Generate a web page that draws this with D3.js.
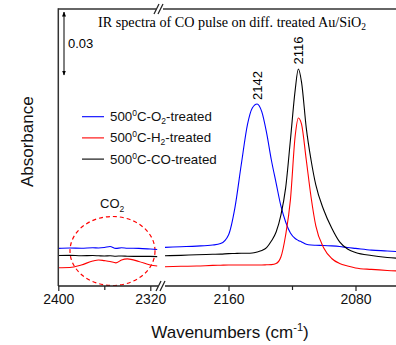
<!DOCTYPE html>
<html><head><meta charset="utf-8">
<script src="https://cdn.jsdelivr.net/npm/d3@7"></script>
<style>
body{margin:0;background:#fff;}
svg{display:block;font-family:"Liberation Sans",Arial,sans-serif;}
</style></head>
<body>
<svg id="chart" width="396" height="345"></svg>
<script>
// ---- data ----
const wavenumbersLow = [2400,2390,2380,2370,2365,2360,2355,2350,2345,2340,2330,2320,2314];
const wavenumbersHigh = [2200,2190,2180,2170,2165,2160,2156,2152,2148,2145,2142,2139,2136,2133,2130,2127,2124,2121,2118,2116,2114,2111,2108,2105,2100,2095,2090,2085,2080,2070,2060,2050];

const o2Low  = [.0179,.0181,.0180,.0182,.0181,.0183,.0188,.0179,.0182,.0180,.0179,.0176,.0174];
const h2Low  = [.0087,.0088,.0100,.0119,.0124,.0121,.0117,.0110,.0124,.0129,.0117,.0100,.0095];
const coLow  = [.0145,.0146,.0144,.0145,.0144,.0143,.0144,.0142,.0143,.0142,.0141,.0141,.0140];

const o2High = [.0184,.0187,.0190,.0195,.0202,.0243,.0371,.0576,.0771,.0848,.0867,.0829,.0729,.0600,.0490,.0381,.0305,.0252,.0226,.0217,.0210,.0199,.0195,.0194,.0193,.0191,.0188,.0183,.0179,.0171,.0167,.0162];
const h2High = [.0092,.0094,.0095,.0098,.0099,.0100,.0100,.0100,.0100,.0100,.0100,.0100,.0101,.0102,.0107,.0138,.0243,.0410,.0714,.0800,.0771,.0600,.0424,.0286,.0181,.0131,.0107,.0095,.0086,.0079,.0074,.0071];
const coHigh = [.0144,.0146,.0149,.0151,.0152,.0154,.0155,.0156,.0156,.0157,.0162,.0169,.0183,.0214,.0257,.0338,.0467,.0695,.0933,.1033,.0971,.0752,.0600,.0481,.0362,.0276,.0210,.0176,.0160,.0145,.0136,.0131];

const seriesNames = ["O2","H2","CO"];
const seriesColors = ["#0000ff","#ff0000","#000000"];
const majorTicks = [2400,2320,2160,2080];
const minorTicks = [2360,2120];
const peakLabels = [2142,2116];
const scaleBarValue = 0.03;

// ---- layout ----
const svg = d3.select("#chart");
const L = 58.3, T = 9, B = 286, R = 396;
const x = d3.scaleLinear()
  .domain([2400, 2314, 2200, 2050])
  .range([L, L + 86*1.15, 165, 165 + 150*1.5875]);
const y = d3.scaleLinear().domain([0, (B - T)/2100]).range([B, T]);

const lowData = {O2:o2Low, H2:h2Low, CO:coLow};
const highData = {O2:o2High, H2:h2High, CO:coHigh};

svg.append("defs").append("clipPath").attr("id","clip")
  .append("rect").attr("x",L).attr("y",T).attr("width",R-L).attr("height",B-T);

const line = d3.line().x(d=>x(d[0])).y(d=>y(d[1])).curve(d3.curveMonotoneX);
const g = svg.append("g").attr("clip-path","url(#clip)");

// CO2 dashed ellipse
g.append("ellipse").attr("cx",112.5).attr("cy",251).attr("rx",42.5).attr("ry",34.5)
  .attr("fill","none").attr("stroke","#ff0000").attr("stroke-width",1.2).attr("stroke-dasharray","4,3");

seriesNames.forEach((n,i)=>{
  [[wavenumbersLow, lowData[n]],[wavenumbersHigh, highData[n]]].forEach(([w,v])=>{
    g.append("path").datum(w.map((d,j)=>[d,v[j]]))
      .attr("d",line).attr("fill","none").attr("stroke",seriesColors[i]).attr("stroke-width",1.1);
  });
});

// frame
const frame = svg.append("g").attr("stroke","#333").attr("stroke-width",1.5).attr("fill","none");
frame.append("line").attr("x1",L).attr("x2",L).attr("y1",T-0.7).attr("y2",B);
frame.append("line").attr("x1",L).attr("x2",R).attr("y1",T).attr("y2",T);

// bottom axis
const axisG = svg.append("g").attr("transform",`translate(0,${B})`)
  .call(d3.axisBottom(x).tickValues(majorTicks).tickSize(5).tickSizeOuter(0).tickPadding(3).tickFormat(d3.format("d")));
axisG.select(".domain").remove();
axisG.selectAll("text").attr("font-size",14).attr("fill","#111").attr("font-family","Liberation Sans, Arial, sans-serif");
axisG.selectAll("line").attr("stroke","#222").attr("stroke-width",1.2);
svg.append("g").attr("transform",`translate(0,${B})`)
  .call(d3.axisBottom(x).tickValues(minorTicks).tickSize(4).tickFormat(""))
  .call(s=>{s.select(".domain").remove(); s.selectAll("line").attr("stroke","#222").attr("stroke-width",1.2);});
frame.append("line").attr("x1",L).attr("x2",R).attr("y1",B).attr("y2",B).attr("stroke","#222");

// axis breaks
function brk(cx, cy){
  svg.append("rect").attr("x",cx-3).attr("y",cy-2).attr("width",7).attr("height",4).attr("fill","#fff");
  [-2.5,1.5].forEach(o=>{
    svg.append("line").attr("x1",cx+o-2.5).attr("y1",cy+5).attr("x2",cx+o+2.5).attr("y2",cy-5)
      .attr("stroke","#222").attr("stroke-width",1.2);
  });
}
brk(161, B);
brk(159, T);

// scale bar
const defs = svg.select("defs");
defs.append("marker").attr("id","arr").attr("viewBox","0 0 10 10").attr("refX",9).attr("refY",5)
  .attr("markerWidth",5).attr("markerHeight",5).attr("orient","auto-start-reverse")
  .append("path").attr("d","M0,1 L10,5 L0,9 z").attr("fill","#000");
const sbTop = 12;
svg.append("line").attr("x1",64).attr("x2",64).attr("y1",sbTop).attr("y2",sbTop + (y(0)-y(scaleBarValue)))
  .attr("stroke","#000").attr("stroke-width",1).attr("marker-start","url(#arr)").attr("marker-end","url(#arr)");
svg.append("text").attr("x",68).attr("y",48).attr("font-size",13).text(String(scaleBarValue));

// title
const title = svg.append("text").attr("x",98).attr("y",26.5)
  .attr("font-family","Liberation Serif, Times New Roman, serif").attr("font-size",14.2).attr("fill","#000");
title.append("tspan").text("IR spectra of CO pulse on diff. treated Au/SiO");
title.append("tspan").attr("dy",3).attr("font-size",9.5).text("2");

// peak labels
const peakPos = [{w:peakLabels[0], by:100},{w:peakLabels[1], by:64.5}];
peakPos.forEach(p=>{
  svg.append("text").attr("transform",`translate(${x(p.w)+4.5},${p.by}) rotate(-90)`)
    .attr("font-size",13).text(p.w);
});

// legend
const legendLabels = [["500","0","C-O","2","-treated"],["500","0","C-H","2","-treated"],["500","0","C-CO","","-treated"]];
legendLabels.forEach((lab,i)=>{
  const yy = 116.7 + i*21.2;
  svg.append("line").attr("x1",82).attr("x2",104).attr("y1",yy).attr("y2",yy)
    .attr("stroke",seriesColors[i]).attr("stroke-width",1.1);
  const t = svg.append("text").attr("x",110).attr("y",yy+4.5).attr("font-size",13.3).attr("fill","#111");
  t.append("tspan").text(lab[0]);
  t.append("tspan").attr("dy",-5).attr("font-size",8.5).text(lab[1]);
  t.append("tspan").attr("dy",5).text(lab[2]);
  if(lab[3]){
    t.append("tspan").attr("dy",3).attr("font-size",8.5).text(lab[3]);
    t.append("tspan").attr("dy",-3).text(lab[4]);
  } else {
    t.append("tspan").text(lab[4]);
  }
});

// CO2 label
const co2 = svg.append("text").attr("x",100).attr("y",208).attr("font-size",13).attr("fill","#111");
co2.append("tspan").text("CO");
co2.append("tspan").attr("dy",4).attr("font-size",8.5).text("2");

// axis titles
const xt = svg.append("text").attr("x",230).attr("y",338).attr("text-anchor","middle").attr("font-size",17).attr("fill","#111");
xt.append("tspan").text("Wavenumbers (cm");
xt.append("tspan").attr("dy",-7).attr("font-size",11).text("-1");
xt.append("tspan").attr("dy",7).text(")");

svg.append("text").attr("transform","translate(32.5,141.7) rotate(-90)").attr("text-anchor","middle")
  .attr("font-size",17).attr("fill","#111").text("Absorbance");
</script>
</body></html>
